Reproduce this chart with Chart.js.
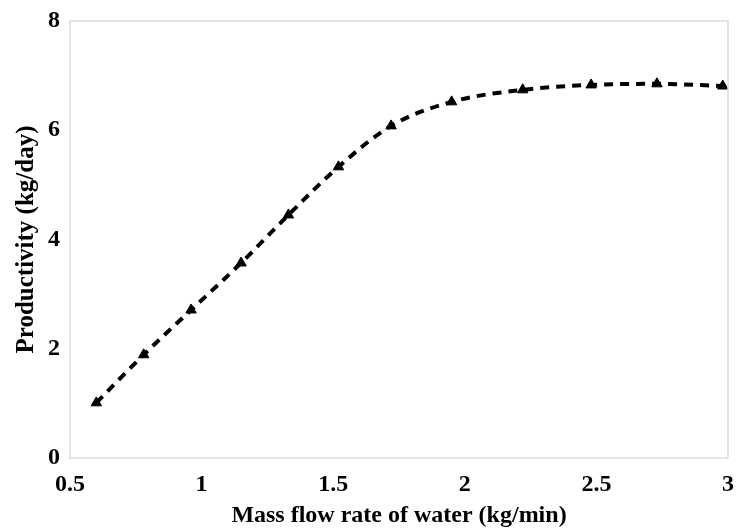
<!DOCTYPE html>
<html>
<head>
<meta charset="utf-8">
<script src="https://cdn.jsdelivr.net/npm/chart.js@4"></script>
<style>
  html, body { margin: 0; padding: 0; background: #fff; }
  #wrap { width: 738px; height: 532px; }
</style>
</head>
<body>
<div id="wrap"><canvas id="chart" width="738" height="532"></canvas></div>
<script>
// Data
const flowRate = [0.6, 0.78, 0.96, 1.15, 1.33, 1.52, 1.72, 1.95, 2.22, 2.48, 2.73, 2.98];
const productivity = [1.01, 1.89, 2.71, 3.57, 4.45, 5.33, 6.08, 6.52, 6.74, 6.83, 6.85, 6.81];
const xTicks = [0.5, 1, 1.5, 2, 2.5, 3];
const yTicks = [0, 2, 4, 6, 8];

const serif = '"Liberation Serif", "Times New Roman", serif';

// light frame round the plot area
const frame = {
  id: 'frame',
  afterDraw(chart) {
    const a = chart.chartArea, c = chart.ctx;
    c.save();
    c.strokeStyle = '#dcdcdc';
    c.lineWidth = 1.5;
    c.strokeRect(a.left, a.top, a.right - a.left, a.bottom - a.top);
    c.restore();
  }
};

const ctx = document.getElementById('chart').getContext('2d');
const chart = new Chart(ctx, {
  type: 'line',
  data: {
    datasets: [{
      data: flowRate.map((x, i) => ({ x: x, y: productivity[i] })),
      borderColor: '#000',
      backgroundColor: '#000',
      borderWidth: 4,
      borderDash: [9, 7],
      cubicInterpolationMode: 'monotone',
      pointStyle: 'triangle',
      pointRadius: 6,
      pointBorderWidth: 1,
      pointBorderColor: '#000',
      pointBackgroundColor: '#000'
    }]
  },
  options: {
    responsive: false,
    animation: false,
    layout: { padding: { top: 21, right: 10, left: 0, bottom: 0 } },
    plugins: { legend: { display: false }, tooltip: { enabled: false } },
    scales: {
      x: {
        type: 'linear',
        min: 0.5, max: 3,
        afterBuildTicks: s => { s.ticks = xTicks.map(v => ({ value: v })); },
        afterFit: s => { s.height = 74; s.paddingLeft = 0; s.paddingRight = 0; },
        grid: { display: false, drawTicks: false },
        border: { display: false },
        ticks: {
          color: '#000', padding: 12, maxRotation: 0,
          callback: v => String(v),
          font: { family: serif, size: 24, weight: 'bold' }
        },
        title: {
          display: true, text: 'Mass flow rate of water (kg/min)', color: '#000',
          padding: { top: 0, bottom: 2 },
          font: { family: serif, size: 24, weight: 'bold' }
        }
      },
      y: {
        min: 0, max: 8,
        afterBuildTicks: s => { s.ticks = yTicks.map(v => ({ value: v })); },
        afterFit: s => { s.width = 70; s.paddingTop = 0; s.paddingBottom = 0; },
        grid: { display: false, drawTicks: false },
        border: { display: false },
        ticks: {
          color: '#000', padding: 10,
          callback: v => String(v),
          font: { family: serif, size: 24, weight: 'bold' }
        },
        title: {
          display: true, text: 'Productivity (kg/day)', color: '#000',
          padding: { top: 12, bottom: 0 },
          font: { family: serif, size: 25, weight: 'bold' }
        }
      }
    }
  },
  plugins: [frame]
});
</script>
</body>
</html>
